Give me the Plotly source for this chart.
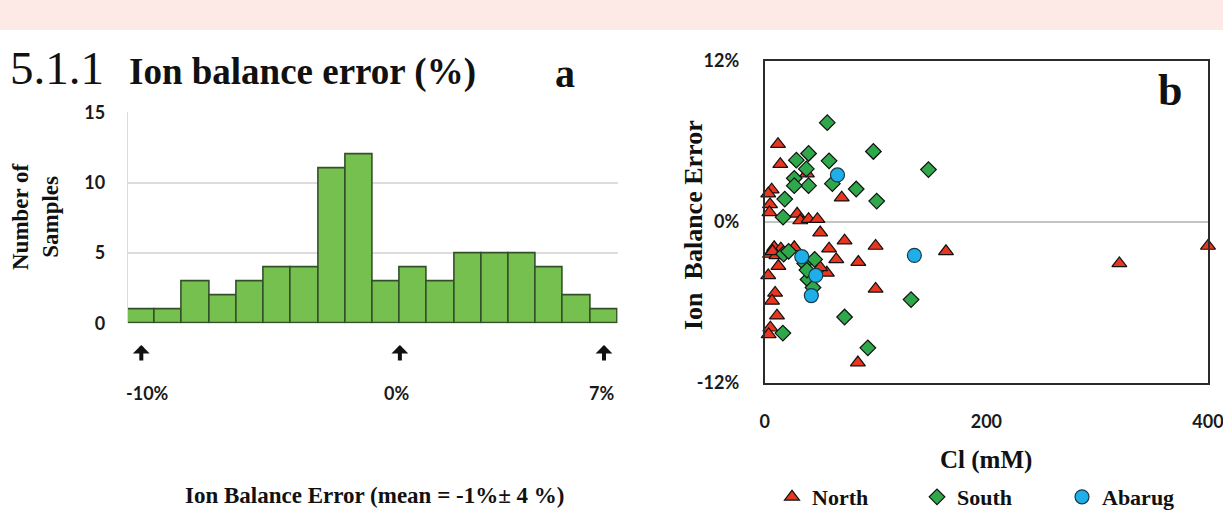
import plotly.graph_objects as go

# ---- panel a: histogram of ion balance error (%) ----
bin_centers = [-10, -9, -8, -7, -6, -5, -4, -3, -2, -1, 0, 1, 2, 3, 4, 5, 6, 7]
sample_counts = [1, 1, 3, 2, 3, 4, 4, 11, 12, 3, 4, 3, 5, 5, 5, 4, 2, 1]
marker_positions = [-10, -0.5, 7]
marker_labels = ["-10%", "0%", "7%"]
count_ticks = [0, 5, 10, 15]

# ---- panel b: ion balance error vs chloride ----
north_cl = [11.9, 14, 38, 6.2, 3.1, 4.7, 4.2, 69.4, 29.2, 32, 39.5, 47.5, 50, 72,
            58, 100, 163.5, 400, 320, 84.4, 64.5, 26.6, 8.5, 4.7, 12.3, 3.1, 9.3,
            6.5, 11, 5, 3.5, 100, 84, 56, 14.5, 10.5, 50, 7]
north_ibe = [5.8, 4.3, 3.6, 2.4, 2.1, 1.3, 0.7, 1.8, 0.6, 0.1, 0.2, 0.2, -0.8, -1.4,
             -2.0, -1.8, -2.2, -1.8, -3.1, -3.0, -2.8, -1.9, -1.9, -2.4, -3.3, -4.0, -5.3,
             -5.9, -7.0, -7.9, -8.4, -5.0, -10.5, -3.8, -2.0, -2.5, -3.4, -2.2]
south_cl = [56.4, 98, 147.7, 28.5, 39.5, 58, 37.5, 26.6, 39.5, 26.6, 61, 82.5, 101,
            18, 16.5, 17, 21.5, 36, 45, 39, 43.5, 132, 72, 93, 16.3, 38]
south_ibe = [7.4, 5.25, 3.9, 4.6, 5.1, 4.55, 3.95, 3.25, 2.7, 2.7, 2.85, 2.45, 1.55,
             1.7, 0.35, -2.4, -2.2, -3.1, -2.8, -4.3, -4.9, -5.8, -7.1, -9.4, -8.3, -3.6]
abarug_cl = [65.6, 33.4, 46, 42, 135]
abarug_ibe = [3.5, -2.6, -4.0, -5.5, -2.5]
ibe_ticks = [-12, 0, 12]
ibe_tick_text = ["-12%", "0%", "12%"]
cl_ticks = [0, 200, 400]

W, H = 1223, 518
SERIF = "Liberation Serif"
SANS = "Lato"


def px(x):
    return x / W


def py(y):
    return 1 - y / H


fig = go.Figure()

fig.add_trace(go.Bar(
    x=bin_centers, y=sample_counts, width=1,
    marker=dict(color="#76c04f", line=dict(color="#34502a", width=1.6)),
    xaxis="x", yaxis="y", showlegend=False,
))

fig.add_trace(go.Scatter(
    x=north_cl, y=north_ibe, mode="markers", name="North",
    marker=dict(symbol="triangle-up", size=13, color="#e8361f",
                line=dict(color="#111111", width=1.2)),
    xaxis="x2", yaxis="y2", cliponaxis=False,
))
fig.add_trace(go.Scatter(
    x=south_cl, y=south_ibe, mode="markers", name="South",
    marker=dict(symbol="diamond", size=12, color="#2ea84a",
                line=dict(color="#111111", width=1.2)),
    xaxis="x2", yaxis="y2", cliponaxis=False,
))
fig.add_trace(go.Scatter(
    x=abarug_cl, y=abarug_ibe, mode="markers", name="Abarug",
    marker=dict(symbol="circle", size=14, color="#1eaee8",
                line=dict(color="#1a3a4a", width=1.2)),
    xaxis="x2", yaxis="y2", cliponaxis=False,
))

tick_font = dict(family=SANS, size=18, color="#1a1a1a", weight="bold")

annotations = []
# arrows and labels under the histogram
for pos, lab, shift in zip(marker_positions, marker_labels, [6, -3, -2]):
    annotations.append(dict(
        x=pos, y=py(345), xref="x", yref="paper", text="", showarrow=True,
        ax=0, ay=17, arrowhead=1, arrowsize=0.7, arrowwidth=4, arrowcolor="#111111",
    ))
    annotations.append(dict(
        x=pos, y=py(393), xref="x", yref="paper", text=lab, showarrow=False,
        xshift=shift, font=tick_font, xanchor="center", yanchor="middle",
    ))

title_font = dict(family=SERIF, color="#111111")
annotations += [
    dict(x=px(8), y=py(68), xref="paper", yref="paper", text="5.1.1", showarrow=False,
         xanchor="left", yanchor="middle", font=dict(**title_font, size=47)),
    dict(x=px(127), y=py(72), xref="paper", yref="paper", text="<b>Ion balance error (%)</b>",
         showarrow=False, xanchor="left", yanchor="middle", font=dict(**title_font, size=37)),
    dict(x=px(565), y=py(74), xref="paper", yref="paper", text="<b>a</b>", showarrow=False,
         xanchor="center", yanchor="middle", font=dict(**title_font, size=40)),
    dict(x=px(1170), y=py(91), xref="paper", yref="paper", text="<b>b</b>", showarrow=False,
         xanchor="center", yanchor="middle", font=dict(**title_font, size=44)),
    dict(x=px(36), y=py(217), xref="paper", yref="paper", text="<b>Number of<br>Samples</b>",
         showarrow=False, textangle=-90, xanchor="center", yanchor="middle",
         font=dict(**title_font, size=23)),
    dict(x=px(374), y=py(495), xref="paper", yref="paper",
         text="<b>Ion Balance Error (mean = -1%± 4 %)</b>", showarrow=False,
         xanchor="center", yanchor="middle", font=dict(**title_font, size=23)),
    dict(x=px(693), y=py(225), xref="paper", yref="paper", text="<b>Ion\u00a0 Balance Error</b>",
         showarrow=False, textangle=-90, xanchor="center", yanchor="middle",
         font=dict(**title_font, size=26)),
    dict(x=px(986), y=py(460), xref="paper", yref="paper", text="<b>Cl (mM)</b>",
         showarrow=False, xanchor="center", yanchor="middle", font=dict(**title_font, size=25)),
]

fig.update_layout(
    width=W, height=H, autosize=False,
    margin=dict(l=0, r=0, t=0, b=0, pad=0),
    paper_bgcolor="white", plot_bgcolor="white",
    bargap=0,
    xaxis=dict(domain=[px(127.7), px(617.6)], range=[-10.5, 7.5],
               showticklabels=False, showgrid=False, zeroline=False, showline=False,
               automargin=False, fixedrange=True),
    yaxis=dict(domain=[py(323.3), py(112.4)], range=[0, 15], tickvals=count_ticks,
               showgrid=True, gridcolor="#dcdcdc", gridwidth=2, zeroline=False,
               showline=True, linecolor="#dcdcdc", linewidth=1, automargin=False,
               ticks="", ticklabelstandoff=18, tickfont=tick_font, anchor="x"),
    xaxis2=dict(domain=[px(764.8), px(1208)], range=[0, 400], tickvals=cl_ticks,
                showgrid=False, zeroline=False, showline=True, mirror=True,
                linecolor="#2b2b2b", linewidth=2, ticks="", ticklabelstandoff=22,
                ticklabeloverflow="allow", automargin=False, tickfont=tick_font,
                anchor="y2"),
    yaxis2=dict(domain=[py(382.7), py(61)], range=[-12, 12], tickvals=ibe_ticks,
                ticktext=ibe_tick_text, showgrid=False, zeroline=True,
                zerolinecolor="#c4c4c4", zerolinewidth=2, showline=True, mirror=True,
                linecolor="#2b2b2b", linewidth=2, ticks="", ticklabelstandoff=20,
                automargin=False, tickfont=tick_font, anchor="x2"),
    legend=dict(orientation="h", x=px(772), y=0, xanchor="left", yanchor="bottom",
                font=dict(family=SERIF, size=22, color="#111111", weight="bold"),
                entrywidth=100, entrywidthmode="pixels", bgcolor="rgba(0,0,0,0)",
                borderwidth=0, itemsizing="trace"),
    shapes=[dict(type="rect", xref="paper", yref="paper", x0=0, x1=1, y0=py(30), y1=1,
                 fillcolor="#fdeae7", line=dict(width=0), layer="below")],
    annotations=annotations,
)

fig.write_html("out.html")
